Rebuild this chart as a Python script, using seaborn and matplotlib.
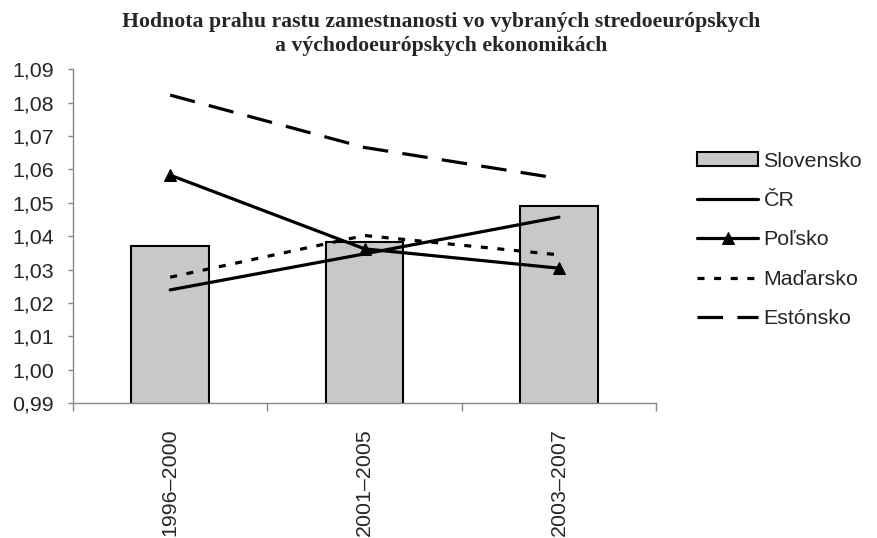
import matplotlib
matplotlib.use("Agg")
import matplotlib.pyplot as plt
import numpy as np
import pandas as pd
import seaborn as sns
from matplotlib.ticker import FuncFormatter

# data
periods = ["1996–2000", "2001–2005", "2003–2007"]
slovensko = [1.0372, 1.0384, 1.0489]
cr = [1.0239, 1.0347, 1.0457]
polsko = [1.0583, 1.0362, 1.0304]
madarsko = [1.0277, 1.0402, 1.0344]
estonsko = [1.0823, 1.0666, 1.0573]

title = "Hodnota prahu rastu zamestnanosti vo vybraných stredoeurópskych\na východoeurópskych ekonomikách"

sns.set_theme(style="white")
plt.rcParams["font.family"] = ["Liberation Sans", "DejaVu Sans"]

FS = 15.4

fig = plt.figure(figsize=(8.77, 5.38), dpi=100)
ax = fig.add_axes([0.0832, 0.251, 0.665, 0.620])

bars = pd.DataFrame({"period": periods, "value": slovensko})
sns.barplot(data=bars, x="period", y="value", color="#c8c8c8", edgecolor="black",
            linewidth=1.5, width=0.40, saturation=1, ax=ax, label="Slovensko")

pos = np.arange(len(periods))
lw = 2.3
sns.lineplot(x=pos, y=cr, color="black", lw=lw, ax=ax, label="ČR")
sns.lineplot(x=pos, y=polsko, color="black", lw=lw, marker="^", markersize=9,
             markeredgecolor="black", ax=ax, label="Poľsko")
sns.lineplot(x=pos, y=madarsko, color="black", lw=lw, ax=ax, label="Maďarsko",
             linestyle=(0, (2.2, 3.0)))
sns.lineplot(x=pos, y=estonsko, color="black", lw=lw, ax=ax, label="Estónsko",
             linestyle=(0, (8, 4.5)))

ax.set_xlim(-0.5, len(periods) - 0.5)
ax.set_ylim(0.99, 1.09)
ax.set_yticks(np.arange(0.99, 1.0901, 0.01))
ax.yaxis.set_major_formatter(FuncFormatter(lambda v, _: f"{v:.2f}".replace(".", ",")))
ax.set_xlabel("")
ax.set_ylabel("")

# category boundary ticks on x axis, labels in centre
ax.set_xticks(pos)
ax.set_xticklabels(periods, rotation=90, fontsize=FS, va="top")
ax.set_xticks(np.arange(-0.5, len(periods), 1), minor=True)
ax.tick_params(axis="x", which="major", length=0, pad=18)
ax.tick_params(axis="x", which="minor", length=5.5, color="#888888", width=1)
ax.tick_params(axis="y", length=3.8, color="#888888", width=1, labelsize=FS, pad=10)
ax.yaxis.set_ticks_position("left")
ax.xaxis.set_ticks_position("bottom")

for side in ["top", "right"]:
    ax.spines[side].set_visible(False)
for side in ["left", "bottom"]:
    ax.spines[side].set_color("#888888")
    ax.spines[side].set_linewidth(1)

# legend: Slovensko (bars) first
handles, labels = ax.get_legend_handles_labels()
order = [labels.index(n) for n in ["Slovensko", "ČR", "Poľsko", "Maďarsko", "Estónsko"]]
ax.legend([handles[i] for i in order], [labels[i] for i in order],
          loc="upper left", bbox_to_anchor=(0.795, 0.718), bbox_transform=fig.transFigure,
          frameon=False, fontsize=FS, handlelength=2.85, handletextpad=0.25,
          handleheight=0.6, labelspacing=0.95, borderaxespad=0, borderpad=0)

fig.text(0.503, 0.978, title, ha="center", va="top", fontsize=15.7,
         fontweight="bold", family=["Liberation Serif", "DejaVu Serif"],
         linespacing=1.3)

fig.savefig("out.png", dpi=100)
